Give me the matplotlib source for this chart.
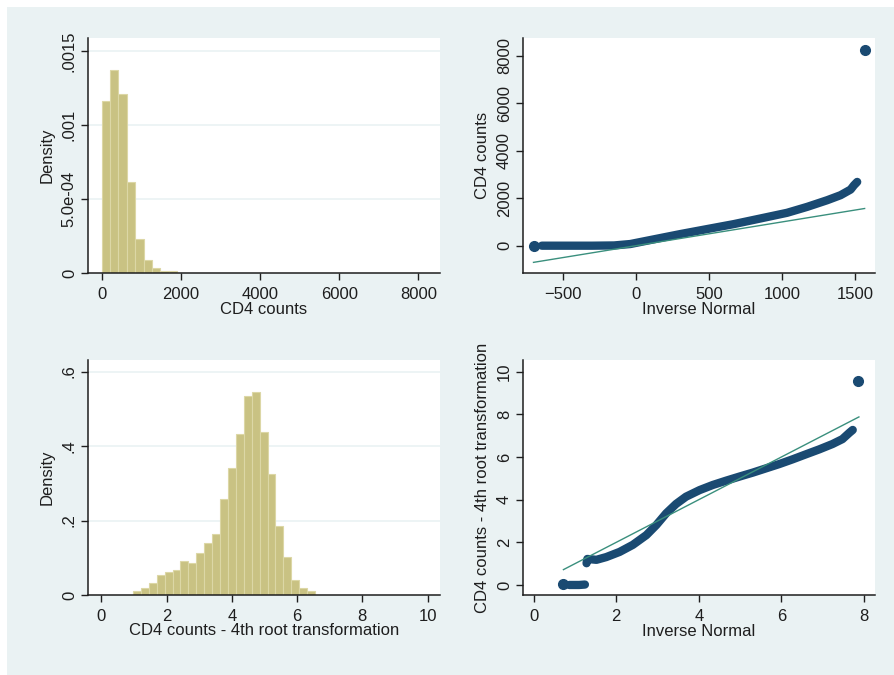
import matplotlib.pyplot as plt
from matplotlib.patches import Rectangle
import numpy as np

plt.rcParams['font.family'] = ['Liberation Sans', 'DejaVu Sans']

# --- histogram of CD4 counts (density per bin) ---
cd4_bin_start = 0
cd4_bin_width = 212
cd4_density = [0.001162, 0.001372, 0.001207, 0.000617, 0.000232,
               0.0000878, 0.0000315, 0.0000158, 0.0000113]
cd4_xticks = [0, 2000, 4000, 6000, 8000]
cd4_yticks = [0, 0.0005, 0.001, 0.0015]
cd4_ylabels = ['0', '5.0e-04', '.001', '.0015']

# --- histogram of the 4th root transformation ---
root_bin_start = 0.97
root_bin_width = 0.2425
root_density = [0.011, 0.020, 0.032, 0.054, 0.061, 0.066, 0.092, 0.087,
                0.113, 0.140, 0.163, 0.259, 0.341, 0.433, 0.535, 0.544,
                0.437, 0.324, 0.184, 0.102, 0.040, 0.020, 0.0098]
root_xticks = [0, 2, 4, 6, 8, 10]
root_yticks = [0, 0.2, 0.4, 0.6]
root_ylabels = ['0', '.2', '.4', '.6']

# --- normal quantile plot, CD4 counts ---
cd4_qq_x = [-645, -500, -300, -150, -39, 121, 304, 487, 670, 853,
            1035, 1173, 1310, 1401, 1470, 1493, 1515]
cd4_qq_y = [0, 0, 0, 10, 70, 266, 490, 700, 909, 1147,
            1385, 1636, 1916, 2126, 2364, 2545, 2685]
cd4_qq_lone_x = [-702, 1566]
cd4_qq_lone_y = [0, 8240]
cd4_qq_range = [-702, 1566]
cd4_qq_xticks = [-500, 0, 500, 1000, 1500]
cd4_qq_yticks = [0, 2000, 4000, 6000, 8000]

# --- normal quantile plot, 4th root ---
root_qq_zero_x = [0.86, 0.98, 1.10, 1.24]
root_qq_zero_y = [0.0, 0.0, 0.0, 0.02]
root_qq_x = [1.28, 1.30, 1.52, 1.76, 2.08, 2.40, 2.73, 2.97, 3.21, 3.45,
             3.69, 4.02, 4.34, 4.66, 4.98, 5.31, 5.63, 5.95, 6.27, 6.60,
             6.92, 7.24, 7.48, 7.65, 7.73]
root_qq_y = [1.02, 1.22, 1.18, 1.31, 1.55, 1.88, 2.34, 2.81, 3.36, 3.80,
             4.14, 4.45, 4.69, 4.89, 5.08, 5.27, 5.47, 5.67, 5.89, 6.13,
             6.36, 6.61, 6.84, 7.14, 7.27]
root_qq_lone_x = [0.72, 7.87]
root_qq_lone_y = [0.03, 9.56]
root_qq_range = [0.72, 7.88]
root_qq_xticks = [0, 2, 4, 6, 8]
root_qq_yticks = [0, 2, 4, 6, 8, 10]

BG = '#eaf2f3'
BAR = '#c9c283'
BAR_EDGE = '#dcd7a6'
NAVY = '#1a4a72'
FIT = '#3a8f7d'
INK = '#1e1e1e'
FS = 12

fig = plt.figure(figsize=(8.94, 6.75), dpi=100, facecolor='white')
fig.patches.append(Rectangle((7 / 894, 0), 1, 1 - 7 / 675, transform=fig.transFigure,
                             facecolor=BG, edgecolor='none', zorder=-10))

W, H = 894, 675


def make_axes(left, top, right, bottom):
    return fig.add_axes([left / W, 1 - bottom / H, (right - left) / W, (bottom - top) / H])


def style(ax, xlim, ylim, xticks, yticks, ylabels=None):
    ax.set_facecolor('white')
    ax.set_xlim(xlim)
    ax.set_ylim(ylim)
    for s in ['top', 'right']:
        ax.spines[s].set_visible(False)
    for s in ['left', 'bottom']:
        ax.spines[s].set_color(INK)
        ax.spines[s].set_linewidth(1.1)
    ax.set_xticks(xticks)
    if ylabels is None:
        ax.set_yticks(yticks)
    else:
        ax.set_yticks(yticks, labels=ylabels)
    ax.tick_params(direction='out', length=5, width=1, colors=INK, labelsize=FS)
    ax.tick_params(axis='x', pad=5)
    ax.tick_params(axis='y', labelrotation=90, pad=3)
    for lab in ax.get_yticklabels():
        lab.set_va('center')


def titles(ax, xtitle, ytitle, xpos, ypos):
    ax.set_xlabel(xtitle, fontsize=FS, color=INK, va='center')
    ax.set_ylabel(ytitle, fontsize=FS, color=INK, va='center')
    ax.xaxis.set_label_coords(0.5, xpos)
    ax.yaxis.set_label_coords(ypos, 0.5)


def grid(ax, yticks):
    for t in yticks[1:]:
        ax.axhline(t, color=BG, lw=1.2, zorder=0)


def qq_band(ax, x, y):
    ax.plot(x, y, color=NAVY, lw=6, solid_capstyle='round',
            solid_joinstyle='round', zorder=2)


def qq_points(ax, x, y):
    ax.plot(x, y, ls='none', color=NAVY, marker='o', ms=7, zorder=2)


# top left: histogram of CD4 counts
ax1 = make_axes(88, 38, 440, 273)
edges = cd4_bin_start + cd4_bin_width * np.arange(len(cd4_density))
ax1.bar(edges, cd4_density, width=cd4_bin_width, align='edge',
        color=BAR, edgecolor=BAR_EDGE, linewidth=0.8, zorder=2)
style(ax1, (-346, 8548), (0, 0.001588), cd4_xticks, cd4_yticks, cd4_ylabels)
grid(ax1, cd4_yticks)
titles(ax1, 'CD4 counts', 'Density', -0.157, -0.116)

# top right: normal quantile plot of CD4 counts
ax2 = make_axes(523, 38, 875, 273)
ax2.plot(cd4_qq_range, cd4_qq_range, color=FIT, lw=1.0, zorder=3)
qq_band(ax2, cd4_qq_x, cd4_qq_y)
qq_points(ax2, cd4_qq_lone_x, cd4_qq_lone_y)
style(ax2, (-774, 1637), (-1150, 8745), cd4_qq_xticks, cd4_qq_yticks)
titles(ax2, 'Inverse Normal', 'CD4 counts', -0.157, -0.114)

# bottom left: histogram of the 4th root transformation
ax3 = make_axes(88, 360, 440, 595)
edges = root_bin_start + root_bin_width * np.arange(len(root_density))
ax3.bar(edges, root_density, width=root_bin_width, align='edge',
        color=BAR, edgecolor=BAR_EDGE, linewidth=0.8, zorder=2)
style(ax3, (-0.41, 10.38), (0, 0.631), root_xticks, root_yticks, root_ylabels)
grid(ax3, root_yticks)
titles(ax3, 'CD4 counts - 4th root transformation', 'Density', -0.149, -0.116)

# bottom right: normal quantile plot of the 4th root
ax4 = make_axes(523, 360, 875, 595)
ax4.plot(root_qq_range, root_qq_range, color=FIT, lw=1.0, zorder=3)
qq_band(ax4, root_qq_zero_x, root_qq_zero_y)
qq_band(ax4, root_qq_x, root_qq_y)
qq_points(ax4, root_qq_lone_x, root_qq_lone_y)
style(ax4, (-0.26, 8.27), (-0.47, 10.55), root_qq_xticks, root_qq_yticks)
titles(ax4, 'Inverse Normal', 'CD4 counts - 4th root transformation', -0.156, -0.114)

fig.savefig('out.png', dpi=100, facecolor='white')
